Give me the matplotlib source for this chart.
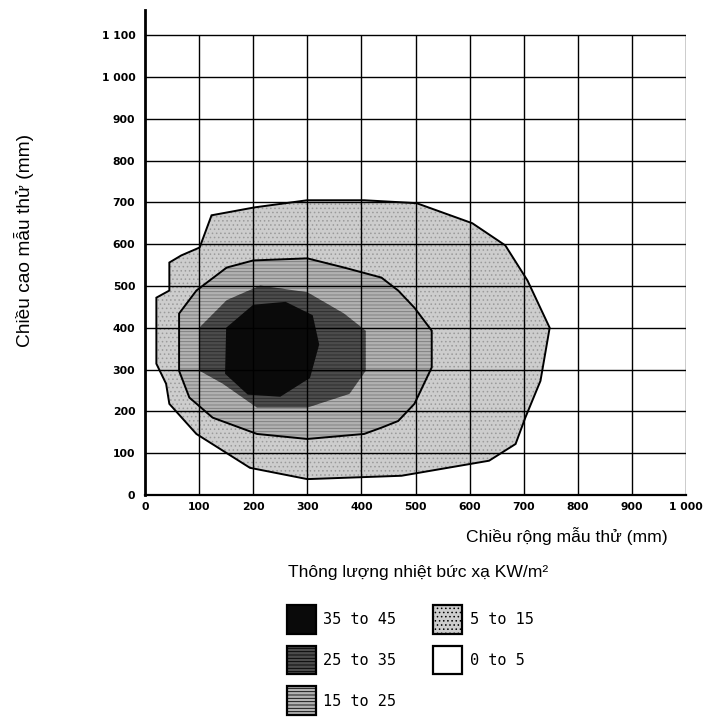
import matplotlib
matplotlib.use("Agg")
import matplotlib.pyplot as plt
from matplotlib.patches import Patch

# ---- data (mm) ----
x_ticks = [0, 100, 200, 300, 400, 500, 600, 700, 800, 900, 1000]
x_labels = ["0", "100", "200", "300", "400", "500", "600", "700", "800", "900", "1 000"]
y_ticks = [0, 100, 200, 300, 400, 500, 600, 700, 800, 900, 1000, 1100]
y_labels = ["0", "100", "200", "300", "400", "500", "600", "700", "800", "900", "1 000", "1 100"]

# contour >= 5 kW/m2 (outer)
c5_x = [123, 203, 300, 405, 502, 605, 666, 707, 748, 731, 703, 685, 636, 474, 300, 194, 95, 45, 39, 21, 21, 45, 45, 67, 101]
c5_y = [669, 688, 705, 705, 698, 650, 597, 513, 400, 273, 185, 122, 82, 46, 38, 65, 146, 218, 266, 314, 472, 489, 556, 573, 592]
# contour >= 15 kW/m2
c15_x = [151, 200, 300, 368, 437, 468, 498, 530, 530, 498, 468, 437, 405, 300, 207, 125, 82, 63, 63, 95]
c15_y = [544, 561, 566, 544, 520, 489, 448, 393, 305, 218, 177, 161, 146, 134, 146, 185, 233, 297, 434, 489]
# contour >= 25 kW/m2
c25_x = [213, 300, 368, 408, 408, 378, 300, 207, 144, 101, 101, 151]
c25_y = [501, 485, 434, 393, 297, 242, 209, 209, 266, 297, 401, 466]
# contour >= 35 kW/m2
c35_x = [150, 200, 260, 310, 322, 305, 250, 190, 148]
c35_y = [400, 455, 462, 430, 360, 280, 235, 240, 290]

bands = ["35 to 45", "25 to 35", "15 to 25", "5 to 15", "0 to 5"]
band_colors = ["#0a0a0a", "#4c4c4c", "#b2b2b2", "#cdcdcd", "#ffffff"]
band_hatch_colors = ["#000000", "#2a2a2a", "#7a7a7a", "#9a9a9a", "#ffffff"]
band_hatches = [None, "-----", "-----", "....", None]

plt.rcParams["font.family"] = ["Liberation Sans", "DejaVu Sans"]
plt.rcParams["hatch.linewidth"] = 0.6

W, H = 718, 719
fig = plt.figure(figsize=(W / 100, H / 100), dpi=100)
x0, x1 = 145, 686
y0, y1 = 495, 10
ax = fig.add_axes([x0 / W, 1 - y0 / H, (x1 - x0) / W, (y0 - y1) / H])
ax.set_xlim(0, 1000)
ax.set_ylim(0, 1160)

polys = [(c5_x, c5_y, 3), (c15_x, c15_y, 2), (c25_x, c25_y, 1), (c35_x, c35_y, 0)]
for px, py, bi in polys:
    ax.fill(px, py, facecolor=band_colors[bi], edgecolor=band_hatch_colors[bi],
            hatch=band_hatches[bi], linewidth=0, zorder=1 + (3 - bi) * 0.1)
for px, py, lw in [(c5_x, c5_y, 1.4), (c15_x, c15_y, 1.4)]:
    ax.fill(px, py, facecolor="none", edgecolor="black", linewidth=lw, zorder=2)

# grid
ax.vlines(x_ticks[1:], 0, 1100, colors="black", linewidth=1.0, zorder=3)
ax.hlines(y_ticks[1:], 0, 1000, colors="black", linewidth=1.0, zorder=3)

for s in ["top", "right"]:
    ax.spines[s].set_visible(False)
ax.spines["left"].set_linewidth(2.0)
ax.spines["bottom"].set_linewidth(1.6)
ax.set_xticks(x_ticks)
ax.set_xticklabels(x_labels)
ax.set_yticks(y_ticks)
ax.set_yticklabels(y_labels)
ax.tick_params(axis="x", length=0, labelsize=7.8, pad=5)
ax.tick_params(axis="y", length=0, labelsize=7.8, pad=7)
for t in ax.get_xticklabels() + ax.get_yticklabels():
    t.set_fontweight("bold")
    t.set_family(["DejaVu Sans"])

fig.text(24 / W, 1 - 240 / H, "Chiều cao mẫu thử (mm)", rotation=90,
         ha="center", va="center", fontsize=13.8)
fig.text(668 / W, 1 - 536 / H, "Chiều rộng mẫu thử (mm)", ha="right",
         va="center", fontsize=12.6)
fig.text(288 / W, 1 - 572 / H, "Thông lượng nhiệt bức xạ KW/m²", ha="left",
         va="center", fontsize=12.6)

handles = [Patch(facecolor=band_colors[i], edgecolor="black", hatch=band_hatches[i],
                 linewidth=1.6) for i in range(len(bands))]
leg = fig.legend(handles, bands, ncol=2, loc="upper left",
                 bbox_to_anchor=(279 / W, 1 - 597 / H), frameon=False,
                 borderpad=0, handlelength=1.9, handleheight=2.54,
                 labelspacing=0.78, columnspacing=2.4, handletextpad=0.5,
                 prop={"family": "DejaVu Sans Mono", "size": 11})

fig.savefig("out.png", dpi=100)
